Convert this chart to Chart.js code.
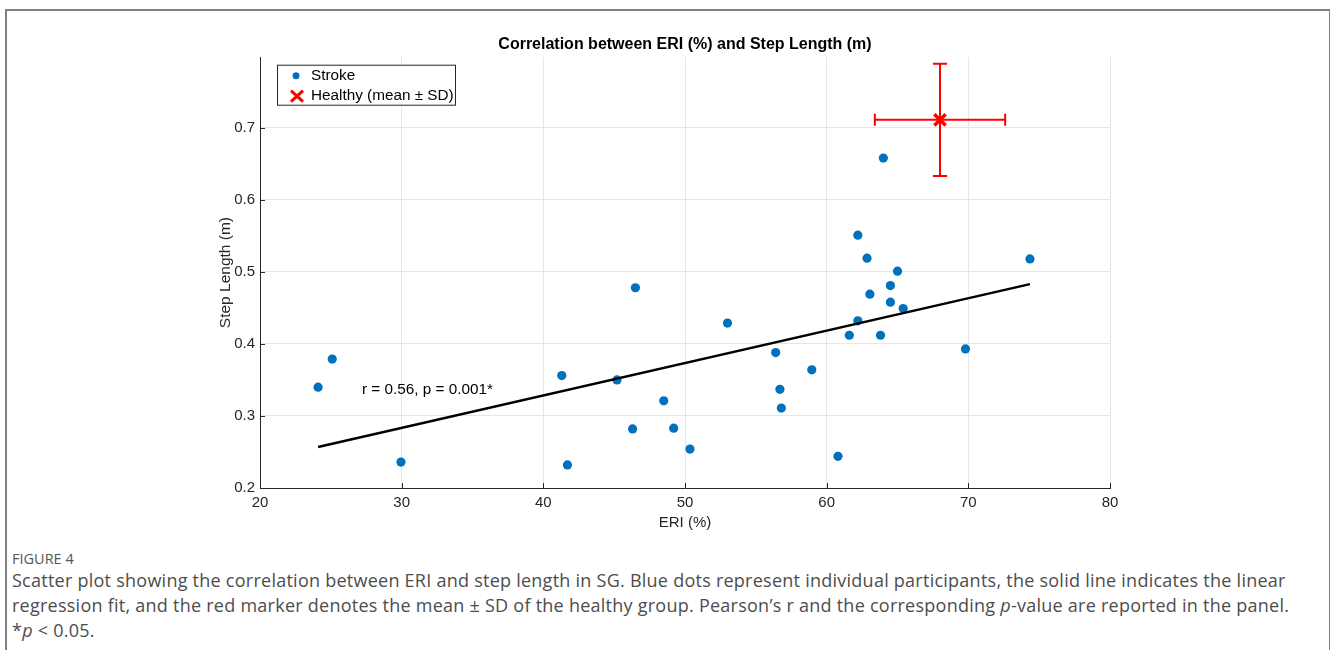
<!DOCTYPE html>
<html>
<head>
<meta charset="utf-8">
<script src="https://cdn.jsdelivr.net/npm/chart.js@4.4.1/dist/chart.umd.min.js"></script>
<style>
  body { margin: 0; background: #fff; width: 1330px; height: 650px; overflow: hidden; position: relative; }
  #frame { position: absolute; left: 5px; top: 9px; width: 1322px; height: 700px; border: 2px solid #808080; border-bottom: none; }
  #wrap { position: absolute; left: 0; top: 0; width: 1330px; height: 540px; }
  #fig { position: absolute; left: 12px; top: 549px; font-family: "Open Sans", sans-serif; font-size: 14.5px; line-height: 20px; color: #555; }
  #caption { position: absolute; left: 12px; top: 568px; font-family: "Open Sans", sans-serif; font-size: 18px; letter-spacing: 0.25px; line-height: 25px; color: #4d4d4d; white-space: nowrap; }
</style>
</head>
<body>
<div id="frame"></div>
<div id="wrap"><canvas id="SLChart" width="1330" height="540"></canvas></div>
<div id="fig">FIGURE 4</div>
<div id="caption">Scatter plot showing the correlation between ERI and step length in SG. Blue dots represent individual participants, the solid line indicates the linear<br>regression fit, and the red marker denotes the mean &plusmn; SD of the healthy group. Pearson&rsquo;s r and the corresponding <i>p</i>-value are reported in the panel.<br>*<i>p</i> &lt; 0.05.</div>
<script>
// stroke participants: ERI (%) and step length (m)
const strokeERI = [24.1, 25.1, 29.95, 41.3, 41.7, 45.2, 46.3, 46.5, 48.5, 49.2, 50.35, 53.0, 56.4, 56.7, 56.8,
    58.95, 60.8, 61.6, 62.2, 62.2, 62.85, 63.05, 63.8, 64.0, 64.5, 64.5, 65.0, 65.4, 69.8, 74.35];
const strokeStep = [0.340, 0.379, 0.236, 0.356, 0.232, 0.350, 0.282, 0.478, 0.321, 0.283, 0.254, 0.429, 0.388, 0.337, 0.311,
    0.364, 0.244, 0.412, 0.432, 0.551, 0.519, 0.469, 0.412, 0.658, 0.481, 0.458, 0.501, 0.449, 0.393, 0.518];

// regression line end points
const fitERI = [24.1, 74.35];
const fitStep = [0.257, 0.483];

// healthy group mean and SD
const healthyERI = 68.0, healthyERISD = 4.6;
const healthyStep = 0.711, healthyStepSD = 0.078;

const xTicks = [20, 30, 40, 50, 60, 70, 80];
const yTicks = [0.2, 0.3, 0.4, 0.5, 0.6, 0.7];

const statText = 'r = 0.56, p = 0.001*';
const statPos = [27.2, 0.336];

const FONT = '"Liberation Sans", Arial, sans-serif';
const BLUE = '#0072BD';
const RED = '#ff0000';
const AXIS = '#262626';

const extras = {
    id: 'extras',
    beforeDatasetsDraw(chart) {
        const ctx = chart.ctx;
        const xs = chart.scales.x, ys = chart.scales.y;
        const a = chart.chartArea;
        // inward tick marks
        ctx.save();
        ctx.strokeStyle = AXIS;
        ctx.lineWidth = 1;
        ctx.beginPath();
        xTicks.forEach(v => {
            const px = Math.round(xs.getPixelForValue(v)) + 0.5;
            ctx.moveTo(px, a.bottom);
            ctx.lineTo(px, a.bottom - 5);
        });
        yTicks.forEach(v => {
            const py = Math.round(ys.getPixelForValue(v)) + 0.5;
            ctx.moveTo(a.left, py);
            ctx.lineTo(a.left + 5, py);
        });
        ctx.stroke();
        ctx.restore();
    },
    afterDatasetsDraw(chart) {
        const ctx = chart.ctx;
        const xs = chart.scales.x, ys = chart.scales.y;
        const a = chart.chartArea;
        ctx.save();

        // healthy error bars
        const cx = xs.getPixelForValue(healthyERI);
        const cy = ys.getPixelForValue(healthyStep);
        const x0 = xs.getPixelForValue(healthyERI - healthyERISD);
        const x1 = xs.getPixelForValue(healthyERI + healthyERISD);
        const y0 = ys.getPixelForValue(healthyStep - healthyStepSD);
        const y1 = ys.getPixelForValue(healthyStep + healthyStepSD);
        ctx.strokeStyle = RED;
        ctx.lineWidth = 2;
        ctx.beginPath();
        ctx.moveTo(x0, cy); ctx.lineTo(x1, cy);
        ctx.moveTo(x0, cy - 6); ctx.lineTo(x0, cy + 6);
        ctx.moveTo(x1, cy - 6); ctx.lineTo(x1, cy + 6);
        ctx.moveTo(cx, y0); ctx.lineTo(cx, y1);
        ctx.moveTo(cx - 7, y0); ctx.lineTo(cx + 7, y0);
        ctx.moveTo(cx - 7, y1); ctx.lineTo(cx + 7, y1);
        ctx.stroke();

        // stats text
        ctx.fillStyle = '#000';
        ctx.font = '15.3px ' + FONT;
        ctx.textAlign = 'left';
        ctx.textBaseline = 'middle';
        ctx.fillText(statText, xs.getPixelForValue(statPos[0]), ys.getPixelForValue(statPos[1]));

        // legend box
        const lx = a.left + 17, ly = a.top + 7.5;
        ctx.fillStyle = '#fff';
        ctx.fillRect(lx, ly, 178, 40);
        ctx.strokeStyle = AXIS;
        ctx.lineWidth = 1;
        ctx.strokeRect(lx + 0.5, ly + 0.5, 178, 40);
        ctx.fillStyle = BLUE;
        ctx.beginPath();
        ctx.arc(lx + 19, ly + 11, 3.5, 0, Math.PI * 2);
        ctx.fill();
        ctx.strokeStyle = RED;
        ctx.lineWidth = 3;
        ctx.beginPath();
        ctx.moveTo(lx + 14, ly + 26); ctx.lineTo(lx + 26, ly + 37);
        ctx.moveTo(lx + 26, ly + 26); ctx.lineTo(lx + 14, ly + 37);
        ctx.stroke();
        ctx.fillStyle = '#000';
        ctx.fillText('Stroke', lx + 34, ly + 11.5);
        ctx.fillText('Healthy (mean \u00b1 SD)', lx + 34, ly + 31.5);
        ctx.restore();
    }
};

const ctx = document.getElementById('SLChart');

new Chart(ctx, {
    type: 'scatter',
    data: {
        datasets: [{
            label: 'Stroke',
            data: strokeERI.map((v, i) => ({x: v, y: strokeStep[i]})),
            backgroundColor: BLUE,
            borderWidth: 0,
            pointRadius: 4.6,
            order: 2
        }, {
            label: 'Fit',
            type: 'line',
            data: fitERI.map((v, i) => ({x: v, y: fitStep[i]})),
            borderColor: '#000',
            borderWidth: 2.5,
            pointRadius: 0,
            fill: false,
            order: 1
        }, {
            label: 'Healthy (mean \u00b1 SD)',
            data: [{x: healthyERI, y: healthyStep}],
            pointStyle: 'crossRot',
            pointRadius: 8,
            borderColor: RED,
            borderWidth: 3.5,
            order: 0
        }]
    },
    plugins: [extras],
    options: {
        responsive: false,
        animation: false,
        layout: {
            padding: {left: 200, right: 220, top: 0, bottom: 0}
        },
        scales: {
            x: {
                type: 'linear',
                min: 20,
                max: 80,
                afterBuildTicks: s => { s.ticks = xTicks.map(v => ({value: v})); },
                afterFit: s => { s.height = 52; },
                ticks: {
                    color: AXIS,
                    font: {family: FONT, size: 15},
                    padding: 6,
                    maxRotation: 0
                },
                grid: {color: '#e6e6e6', drawTicks: false},
                border: {color: AXIS, width: 1},
                title: {
                    display: true,
                    text: 'ERI (%)',
                    color: AXIS,
                    font: {family: FONT, size: 15},
                    padding: {top: 4, bottom: 8}
                }
            },
            y: {
                min: 0.2,
                max: 0.798,
                afterBuildTicks: s => { s.ticks = yTicks.map(v => ({value: v})); },
                afterFit: s => { s.width = 60; },
                ticks: {
                    color: AXIS,
                    font: {family: FONT, size: 15},
                    padding: 5,
                    callback: v => v.toFixed(1)
                },
                grid: {color: '#e6e6e6', drawTicks: false},
                border: {color: AXIS, width: 1},
                title: {
                    display: true,
                    text: 'Step Length (m)',
                    color: AXIS,
                    font: {family: FONT, size: 15.5},
                    padding: {top: 16, bottom: 0}
                }
            }
        },
        plugins: {
            legend: {display: false},
            tooltip: {enabled: false},
            title: {
                display: true,
                fullSize: false,
                text: 'Correlation between ERI (%) and Step Length (m)',
                color: '#000',
                font: {family: FONT, size: 16, weight: 'bold'},
                padding: {top: 35, bottom: 3}
            }
        }
    }
});
</script>
</body>
</html>
